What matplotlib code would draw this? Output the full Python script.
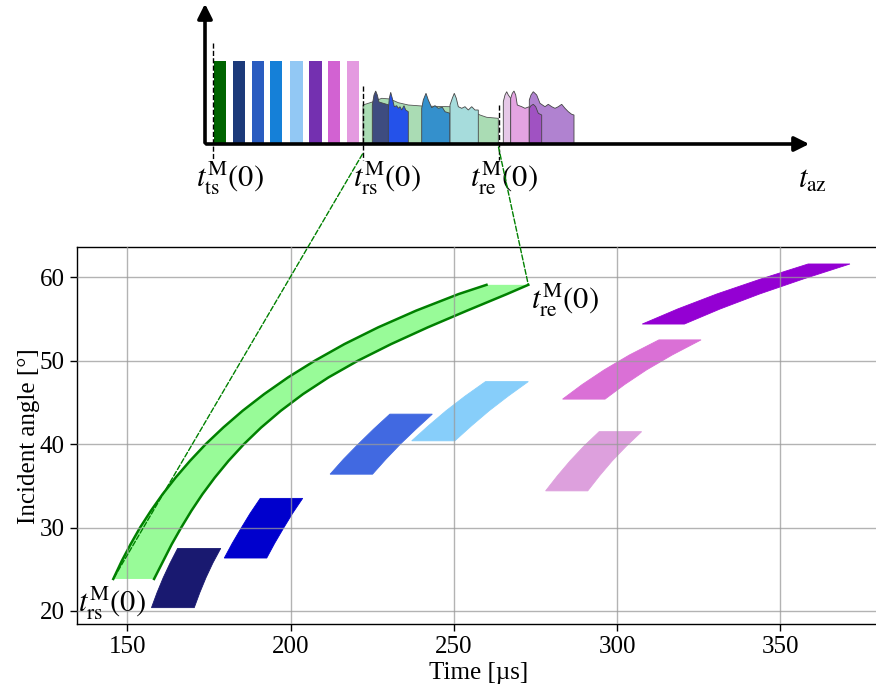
import numpy as np
import matplotlib
matplotlib.use("Agg")
import matplotlib.pyplot as plt
from matplotlib.patches import ConnectionPatch

plt.rcParams.update({
    "font.family": "serif",
    "font.serif": ["Liberation Serif", "DejaVu Serif"],
    "mathtext.fontset": "stix",
    "font.size": 18,
    "axes.linewidth": 1.0,
})

# ===============================
# data: incident angle vs time (main panel)
# ===============================
band_outer_ang = [23.84, 26, 28, 30, 32, 34, 36, 38, 40, 42, 44, 46, 48, 50, 52, 54, 56, 58, 59.1]
band_outer_t = [145.7, 148.3, 151.0, 153.9, 157.2, 160.8, 164.8, 169.2, 174.0, 179.4,
                185.3, 191.9, 199.2, 207.4, 216.5, 226.8, 238.4, 251.5, 260.0]
band_inner_ang = [23.84, 26, 28, 30, 32, 34, 36, 38, 40, 42, 44, 46, 48, 50, 52, 54, 56, 58, 59.1]
band_inner_t = [158.2, 161.0, 163.6, 166.5, 169.6, 173.0, 176.8, 181.0, 185.7, 191.0,
                197.0, 203.8, 211.6, 220.6, 230.8, 242.0, 254.0, 266.3, 272.8]

# patches: angle (bottom .. top), left edge time, right edge time
patch_colors = ["#191970", "#0000CD", "#4169E1", "#87CEFA", "#DDA0DD", "#DA70D6", "#9400D3"]
patch_ang = [
    [20.4, 22.2, 24.0, 25.75, 27.5],
    [26.35, 28.1, 29.9, 31.7, 33.5],
    [36.4, 38.2, 40.0, 41.8, 43.6],
    [40.4, 42.2, 44.0, 45.75, 47.5],
    [34.4, 36.2, 38.0, 39.75, 41.5],
    [45.4, 47.15, 48.9, 50.7, 52.5],
    [54.4, 56.2, 58.0, 59.8, 61.6],
]
patch_left = [
    [157.4, 159.1, 161.0, 163.1, 165.4],
    [179.7, 182.1, 184.8, 187.6, 190.7],
    [212.1, 216.2, 220.7, 225.4, 230.4],
    [237.1, 242.2, 247.6, 253.4, 259.7],
    [278.1, 281.7, 285.6, 289.8, 294.5],
    [283.3, 289.3, 296.0, 303.8, 312.8],
    [307.7, 318.5, 330.5, 344.0, 358.5],
]
patch_right = [
    [170.5, 172.2, 174.1, 176.2, 178.6],
    [192.7, 195.1, 197.8, 200.6, 203.7],
    [225.1, 229.2, 233.6, 238.4, 243.4],
    [250.3, 255.4, 260.8, 266.6, 272.8],
    [291.0, 294.6, 298.5, 302.8, 307.5],
    [296.3, 302.3, 309.0, 316.9, 325.7],
    [320.6, 331.5, 343.6, 357.0, 371.3],
]

# ===============================
# data: schematic (azimuth time axis, arbitrary units)
# ===============================
bar_x = [15, 34, 53, 71.3, 91.5, 110.5, 129, 147.8]
bar_h = [83.3] * 8
bar_colors = ["#006400", "#1c3a7a", "#2a5cc0", "#1580d8", "#92c8f4", "#7430b0", "#d262d2", "#e49ae0"]

bg_x = [158, 158, 168.3, 176.7, 185, 193.3, 203.3, 216.7, 245, 268.3, 275, 281.7, 293.3, 293.3]
bg_y = [0, 39, 42.3, 45.7, 45, 41.3, 39, 38, 37.3, 32.3, 29, 26.7, 25.7, 0]

bumps = [
    ("#3e4c80", [167.3, 169, 170.7, 172.3, 174, 178.3, 184],
     [39, 49, 53, 49, 42, 40.7, 39]),
    ("#2452ea", [183.3, 184.3, 185.7, 187.3, 189.3, 191.7, 193.3, 195, 196.7, 199, 200.7, 203.3],
     [34, 45.7, 51.7, 45.7, 37.3, 38.3, 35.7, 37.3, 34, 38.3, 34, 32.3]),
    ("#3490cc", [216.7, 218.3, 221, 223.3, 226.7, 230, 233.3, 237.3, 240, 245],
     [35.7, 44, 50.7, 44, 36.3, 38.3, 35.7, 36.7, 32.3, 30.7]),
    ("#a6dcdc", [245, 247.3, 249.3, 251.3, 253.3, 256.7, 260, 263.3, 266.7, 270, 273.3],
     [39, 45.7, 50.7, 45.7, 37.3, 35.7, 37.3, 34, 37.3, 34, 34]),
    ("#e6c8e8", [298.3, 300, 301.7, 303.3, 305.7],
     [42.3, 49, 52.3, 49, 45.7]),
    ("#e4a4e2", [305.7, 307.3, 309, 310.7, 312.3, 316.7, 320, 324.3],
     [45.7, 50.7, 53, 49, 39, 37.3, 35.7, 37.3]),
    ("#b082d0", [324.3, 326, 328.3, 331.7, 335, 340, 343.3, 346.7, 350, 353.3, 356.7, 360, 363.3, 366.7, 369],
     [44, 49, 52.3, 49, 40.7, 37.3, 39.7, 37.3, 35.7, 37.3, 39.7, 35.7, 32.3, 29.7, 29]),
    ("#a052c2", [324.3, 326, 328.3, 330.7, 333.3, 336.7],
     [35.7, 38.3, 39.7, 37.3, 30.7, 29]),
]

marker_x = [8, 158, 293.7]
marker_top = [101, 58, 39]
marker_labels = [r"$t^{\mathrm{M}}_{\mathrm{ts}}(0)$", r"$t^{\mathrm{M}}_{\mathrm{rs}}(0)$",
                 r"$t^{\mathrm{M}}_{\mathrm{re}}(0)$"]
label_x = [25, 182, 299]

W, H = 876, 688
fig = plt.figure(figsize=(W / 100, H / 100), dpi=100)

# ===============================
# main panel
# ===============================
ax = fig.add_axes([76.7 / W, 1 - 624 / H, (880 - 76.7) / W, (624 - 247.3) / H])

poly_t = list(band_outer_t) + list(band_inner_t[::-1])
poly_a = list(band_outer_ang) + list(band_inner_ang[::-1])
ax.fill(poly_t, poly_a, color="#98FB98", lw=0, zorder=1)
ax.plot(band_outer_t, band_outer_ang, color="green", lw=1.8, zorder=2)
ax.plot(band_inner_t, band_inner_ang, color="green", lw=1.8, zorder=2)

for c, a, l, r in zip(patch_colors, patch_ang, patch_left, patch_right):
    ax.fill(l + r[::-1], a + a[::-1], color=c, lw=0.6, ec=c, zorder=1)

ax.set_xlim(134.5, 380.5)
ax.set_ylim(18.44, 63.6)
ax.set_xticks([150, 200, 250, 300, 350])
ax.set_yticks([20, 30, 40, 50, 60])
ax.grid(True, color="#9a9a9a", lw=1.0, alpha=0.75)
ax.set_axisbelow(False)
ax.tick_params(length=5, width=1)
ax.set_xlabel("Time [µs]", labelpad=3)
ax.set_ylabel("Incident angle [°]", labelpad=0)

ax.text(273.5, 57.2, r"$t^{\mathrm{M}}_{\mathrm{re}}(0)$", fontsize=22, ha="left", va="center", zorder=5)
ax.text(134.9, 20.9, r"$t^{\mathrm{M}}_{\mathrm{rs}}(0)$", fontsize=22, ha="left", va="center", zorder=5)

# ===============================
# schematic on top
# ===============================
axs = fig.add_axes([190 / W, 1 - 200 / H, 650 / W, 200 / H])
axs.set_xlim(-15, 635)
axs.set_ylim(-56, 144)
axs.axis("off")

axs.bar(bar_x, bar_h, width=12.3, color=bar_colors, zorder=2)
axs.fill(bg_x, bg_y, color="#aadcb4", ec="#555555", lw=0.6, zorder=2)
for c, bx, by in bumps:
    axs.fill([bx[0]] + bx + [bx[-1]], [0] + by + [0], color=c, ec="#454545", lw=0.6, zorder=3)

for mx, mt in zip(marker_x, marker_top):
    axs.plot([mx, mx], [mt, -16], color="black", ls="--", lw=1.0, zorder=4)

axs.annotate("", xy=(0, 143), xytext=(0, -1.5),
             arrowprops=dict(arrowstyle="-|>", lw=2.6, color="black", mutation_scale=22), zorder=5)
axs.annotate("", xy=(607, 0), xytext=(-1.5, 0),
             arrowprops=dict(arrowstyle="-|>", lw=2.6, color="black", mutation_scale=22), zorder=5)

for lx, lab in zip(label_x, marker_labels):
    axs.text(lx, -34, lab, fontsize=22, ha="center", va="center")
axs.text(608, -36, r"$t_{\mathrm{az}}$", fontsize=22, ha="center", va="center")

# dashed zoom connectors
con1 = ConnectionPatch(xyA=(157.5, -10), coordsA=axs.transData,
                       xyB=(band_outer_t[0], band_outer_ang[0]), coordsB=ax.transData,
                       color="green", ls="--", lw=1.0)
con2 = ConnectionPatch(xyA=(293.5, -3), coordsA=axs.transData,
                       xyB=(band_inner_t[-1], band_inner_ang[-1]), coordsB=ax.transData,
                       color="green", ls="--", lw=1.0)
fig.add_artist(con1)
fig.add_artist(con2)

fig.savefig("out.png", dpi=100)
